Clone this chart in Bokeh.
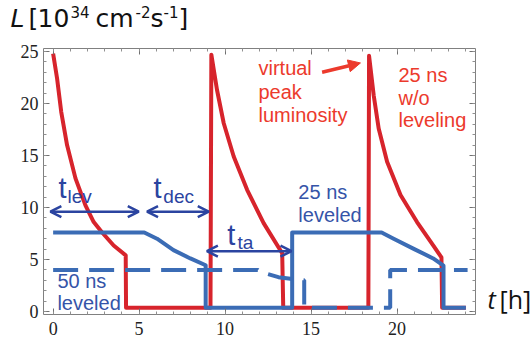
from bokeh.plotting import figure
from bokeh.layouts import column, row
from bokeh.models import Range1d, LinearAxis, Label, Arrow, OpenHead, NormalHead, SingleIntervalTicker
from bokeh.embed import file_html
from bokeh.resources import INLINE

# ---- data ----
# 25 ns without leveling (virtual peak luminosity), t [h], L [1e34 cm^-2 s^-1]
red_t = [0.0, 0.23, 0.47, 0.81, 1.30, 1.88, 2.36, 2.85, 3.52, 4.22, 4.24,
         9.15, 9.20, 9.53, 9.92, 10.5, 11.28, 12.24, 13.32, 13.38,
         18.33, 18.37, 18.64, 18.93, 19.42, 20.2, 21.16, 22.1, 22.58, 22.62, 24.0]
red_L = [24.8, 22.4, 19.2, 16.0, 12.8, 10.2, 8.6, 7.6, 6.35, 5.4, 0.35,
         0.35, 24.7, 21.3, 18.1, 14.9, 11.7, 8.5, 5.6, 0.35,
         0.35, 24.6, 20.8, 17.6, 14.4, 11.2, 8.6, 6.35, 5.2, 0.35, 0.35]

# 25 ns leveled
lev25_t = [0.0, 5.3, 6.04, 7.0, 7.98, 8.87, 8.87, 13.9, 13.9, 19.1, 19.8, 21.0, 22.1, 22.7, 22.7, 24.0]
lev25_L = [7.6, 7.6, 7.0, 5.9, 5.1, 4.45, 0.35, 0.35, 7.6, 7.6, 7.0, 6.0, 5.1, 4.4, 0.35, 0.35]

# 50 ns leveled
lev50_t = [0.0, 11.9, 12.05, 13.1, 14.0, 14.6, 14.6, 19.6, 19.6, 24.1]
lev50_L = [4.0, 4.0, 3.8, 3.3, 3.1, 3.0, 0.35, 0.35, 4.0, 4.0]

RED = "#d7242c"
RED_TXT = "#ec3a2c"
BLUE = "#3b6cb5"
BLUE_TXT = "#3554a8"
ARROW = "#2b44a0"
SANS = "Liberation Sans"
TF = "Open Sans"
TT = "DejaVu Sans"
DARK = "#111111"

p = figure(width=478, height=306,
           x_range=Range1d(-0.56, 24.56), y_range=Range1d(-0.29, 25.29),
           output_backend="svg", toolbar_location=None,
           min_border_left=43, min_border_right=3, min_border_top=8, min_border_bottom=32)
p.grid.visible = False
p.outline_line_color = "#808080"
p.outline_line_width = 1

def style_axis(ax, labels=True):
    ax.ticker = SingleIntervalTicker(interval=5, num_minor_ticks=5)
    ax.axis_line_color = None
    ax.major_tick_in = 6
    ax.major_tick_out = 0
    ax.minor_tick_in = 3
    ax.minor_tick_out = 0
    ax.major_tick_line_color = "#707070"
    ax.minor_tick_line_color = "#909090"
    if labels:
        ax.major_label_text_font = "Liberation Serif"
        ax.major_label_text_font_size = "18px"
        ax.major_label_text_color = "#222222"
        ax.major_label_standoff = 5
    else:
        ax.major_label_text_font_size = "0px"
        ax.major_label_text_color = None
        ax.major_label_standoff = 0

style_axis(p.xaxis[0])
p.xaxis[0].major_label_standoff = 7
style_axis(p.yaxis[0])
top_ax = LinearAxis()
right_ax = LinearAxis()
style_axis(top_ax, labels=False)
style_axis(right_ax, labels=False)
p.add_layout(top_ax, "above")
p.add_layout(right_ax, "right")

p.line(red_t, red_L, line_color=RED, line_width=4, line_join="round")
p.line(lev25_t, lev25_L, line_color=BLUE, line_width=4, line_join="round")
p.line(lev50_t, lev50_L, line_color=BLUE, line_width=4, line_dash="25 11")

def lab(fig, x, y, text, size, color, font=SANS, style="normal"):
    fig.add_layout(Label(x=x, y=y, text=text, text_font=font, text_font_size=size,
                         text_color=color, text_align="left", text_baseline="middle",
                         text_font_style=style))

# time-interval arrows
for (x0, x1, y) in [(-0.16, 4.98, 9.6), (5.46, 9.05, 9.6), (8.94, 13.86, 5.8)]:
    p.add_layout(Arrow(x_start=x0, y_start=y, x_end=x1, y_end=y,
                       line_color=ARROW, line_width=2.5,
                       start=OpenHead(size=11, line_color=ARROW, line_width=2.5),
                       end=OpenHead(size=11, line_color=ARROW, line_width=2.5)))

lab(p, 0.31, 11.83, "t", "29px", ARROW)
lab(p, 0.83, 11.06, "lev", "19px", ARROW)
lab(p, 5.83, 11.83, "t", "29px", ARROW)
lab(p, 6.41, 11.06, "dec", "19px", ARROW)
lab(p, 10.13, 7.31, "t", "29px", ARROW)
lab(p, 10.72, 6.59, "ta", "19px", ARROW)

lab(p, 0.25, 2.9, "50 ns", "20px", BLUE_TXT)
lab(p, 0.25, 0.8, "leveled", "20px", BLUE_TXT)
lab(p, 14.26, 11.49, "25 ns", "20px", BLUE_TXT)
lab(p, 14.26, 9.28, "leveled", "20px", BLUE_TXT)

lab(p, 11.94, 23.41, "virtual", "20px", RED_TXT)
lab(p, 11.94, 21.06, "peak", "20px", RED_TXT)
lab(p, 11.94, 18.85, "luminosity", "20px", RED_TXT)
lab(p, 20.08, 22.74, "25 ns", "20px", RED_TXT)
lab(p, 20.08, 20.53, "w/o", "20px", RED_TXT)
lab(p, 20.08, 18.37, "leveling", "20px", RED_TXT)

p.add_layout(Arrow(x_start=15.64, y_start=23.0, x_end=17.87, y_end=23.9,
                   line_color=RED_TXT, line_width=3.5,
                   end=NormalHead(size=12, fill_color=RED_TXT, line_color=RED_TXT, line_width=1)))

def blank_fig(w, h):
    f = figure(width=w, height=h, x_range=Range1d(0, w), y_range=Range1d(0, h),
               output_backend="svg", toolbar_location=None, min_border=0)
    f.axis.visible = False
    f.grid.visible = False
    f.outline_line_color = None
    return f

# y-axis title strip above the plot (y measured from the strip's bottom)
top = blank_fig(530, 40)
lab(top, 10, 22.5, "L", "25px", DARK, TT, "italic")
lab(top, 28, 22.5, "[", "25px", DARK, TT)
lab(top, 37, 22.5, "10", "25px", DARK, TT)
lab(top, 70, 28.3, "34", "15px", DARK, TT)
lab(top, 95, 22.5, "cm", "25px", DARK, TT)
lab(top, 135, 28.3, "-2", "15px", DARK, TT)
lab(top, 150, 22.5, "s", "25px", DARK, TT)
lab(top, 163, 28.3, "-1", "15px", DARK, TT)
lab(top, 178, 22.5, "]", "25px", DARK, TT)

# x-axis title strip to the right of the plot
side = blank_fig(52, 306)
lab(side, 9, 18, "t", "25px", DARK, TF, "italic")
lab(side, 21, 18, "[h]", "25px", DARK, TF)

layout = column(top, row(p, side, spacing=0), spacing=0)
open("out.html", "w").write(file_html(layout, INLINE))
